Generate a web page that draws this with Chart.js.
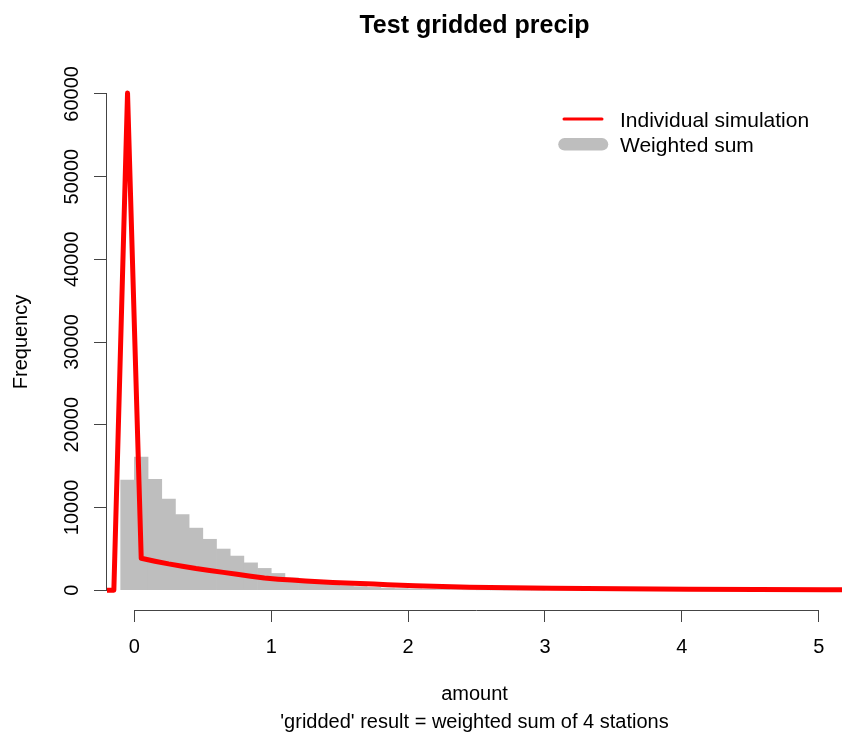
<!DOCTYPE html>
<html>
<head>
<meta charset="utf-8">
<script src="https://cdn.jsdelivr.net/npm/chart.js@4/dist/chart.umd.min.js"></script>
<style>
  html, body { margin: 0; padding: 0; background: #fff; }
  #wrap { width: 842px; height: 736px; }
</style>
</head>
<body>
<div id="wrap"><canvas id="precipChart" width="842" height="736"></canvas></div>
<script>
// Tick labels
const X_TICKS = [0, 1, 2, 3, 4, 5];
const Y_TICKS = [0, 10000, 20000, 30000, 40000, 50000, 60000];

// Histogram of the weighted sum (bin midpoints, bin width 0.1)
const HIST_MIDS = [-0.05, 0.05, 0.15, 0.25, 0.35, 0.45, 0.55, 0.65, 0.75, 0.85, 0.95,
    1.05, 1.15, 1.25, 1.35, 1.45, 1.55, 1.65, 1.75, 1.85, 1.95,
    2.05, 2.15, 2.25, 2.35, 2.45, 2.55, 2.65, 2.75, 2.85, 2.95];
const HIST_COUNTS = [13300, 16100, 13400, 11000, 9130, 7500, 6150, 4970, 4120, 3300, 2630,
    2020, 1480, 1150, 900, 700, 550, 430, 330, 250, 190,
    150, 110, 85, 65, 50, 38, 28, 20, 15, 11];

// Individual simulation frequency polygon
const SIM_X = [-0.25, -0.15, -0.05, 0.05, 0.15, 0.25, 0.35, 0.45, 0.55, 0.65, 0.75, 0.85, 0.95,
    1.05, 1.15, 1.25, 1.35, 1.45, 1.55, 1.65, 1.75, 1.85, 1.95,
    2.05, 2.25, 2.45, 2.75, 3.05, 3.55, 4.05, 4.55, 5.05, 5.25];
const SIM_Y = [0, 0, 60100, 3850, 3500, 3180, 2900, 2620, 2380, 2150, 1920, 1680, 1470,
    1330, 1220, 1110, 1010, 930, 860, 800, 730, 660, 600,
    540, 450, 360, 280, 220, 160, 110, 80, 55, 50];

const FONT = 'Liberation Sans, Arial, Helvetica, sans-serif';
const AXIS_COLOR = '#444';

// R style extras: axis lines that only span the ticks, rotated y labels, title, legend
const rStylePlugin = {
    id: 'rStyle',
    afterDraw(chart) {
        const ctx = chart.ctx;
        const xs = chart.scales.x;
        const ys = chart.scales.y;
        const area = chart.chartArea;
        ctx.save();

        // axis lines
        ctx.strokeStyle = AXIS_COLOR;
        ctx.lineWidth = 1;
        ctx.beginPath();
        ctx.moveTo(xs.getPixelForValue(X_TICKS[0]), area.bottom + 0.5);
        ctx.lineTo(xs.getPixelForValue(X_TICKS[X_TICKS.length - 1]), area.bottom + 0.5);
        ctx.moveTo(area.left - 0.5, ys.getPixelForValue(Y_TICKS[0]));
        ctx.lineTo(area.left - 0.5, ys.getPixelForValue(Y_TICKS[Y_TICKS.length - 1]));
        ctx.stroke();

        // y tick labels, rotated like R
        ctx.fillStyle = '#000';
        ctx.font = '20px ' + FONT;
        ctx.textAlign = 'center';
        ctx.textBaseline = 'alphabetic';
        Y_TICKS.forEach(v => {
            ctx.save();
            ctx.translate(area.left - 29.5, ys.getPixelForValue(v));
            ctx.rotate(-Math.PI / 2);
            ctx.fillText(String(v), 0, 0);
            ctx.restore();
        });

        // main title
        ctx.font = 'bold 25px ' + FONT;
        ctx.fillText('Test gridded precip', (area.left + area.right) / 2, 33);

        // legend
        ctx.lineCap = 'round';
        ctx.strokeStyle = '#FF0000';
        ctx.lineWidth = 3;
        ctx.beginPath();
        ctx.moveTo(564, 119);
        ctx.lineTo(602, 119);
        ctx.stroke();
        ctx.strokeStyle = '#BEBEBE';
        ctx.lineWidth = 12.5;
        ctx.beginPath();
        ctx.moveTo(564.5, 144.3);
        ctx.lineTo(602, 144.3);
        ctx.stroke();
        ctx.font = '21px ' + FONT;
        ctx.textAlign = 'left';
        ctx.fillStyle = '#000';
        ctx.fillText('Individual simulation', 620, 126.5);
        ctx.fillText('Weighted sum', 620, 151.5);

        ctx.restore();
    }
};

const ctx = document.getElementById('precipChart').getContext('2d');

const precipChart = new Chart(ctx, {
    type: 'bar',
    data: {
        datasets: [{
            type: 'line',
            label: 'Individual simulation',
            data: SIM_X.map((x, i) => ({ x: x, y: SIM_Y[i] })),
            borderColor: '#FF0000',
            borderWidth: 5,
            borderJoinStyle: 'round',
            borderCapStyle: 'round',
            pointRadius: 0,
            tension: 0,
            fill: false,
            order: 0
        }, {
            type: 'bar',
            label: 'Weighted sum',
            data: HIST_MIDS.map((x, i) => ({ x: x, y: HIST_COUNTS[i] })),
            backgroundColor: '#BEBEBE',
            borderWidth: 0,
            barPercentage: 1,
            categoryPercentage: 1,
            order: 1
        }]
    },
    options: {
        responsive: false,
        animation: false,
        layout: {
            padding: { top: 74, right: 0, bottom: 0, left: 0 }
        },
        plugins: {
            legend: { display: false },
            tooltip: { enabled: false },
            title: { display: false }
        },
        scales: {
            x: {
                type: 'linear',
                min: -0.2,
                max: 5.17,
                offset: false,
                afterBuildTicks: scale => { scale.ticks = X_TICKS.map(v => ({ value: v })); },
                afterFit: scale => { scale.height = 126; },
                grid: {
                    drawOnChartArea: false,
                    drawTicks: true,
                    tickLength: 12,
                    color: AXIS_COLOR,
                    offset: false
                },
                border: { display: false },
                ticks: {
                    font: { family: FONT, size: 20 },
                    color: '#000',
                    padding: 13,
                    autoSkip: false,
                    maxRotation: 0
                },
                title: {
                    display: true,
                    text: ['amount', "'gridded' result = weighted sum of 4 stations"],
                    font: { family: FONT, size: 20, lineHeight: 1.4 },
                    color: '#000',
                    padding: { top: 0, bottom: 0 }
                }
            },
            y: {
                type: 'linear',
                min: -2400,
                max: 62400,
                afterBuildTicks: scale => { scale.ticks = Y_TICKS.map(v => ({ value: v })); },
                afterFit: scale => { scale.width = 107; },
                grid: {
                    drawOnChartArea: false,
                    drawTicks: true,
                    tickLength: 13,
                    color: AXIS_COLOR
                },
                border: { display: false },
                ticks: { display: false },
                title: {
                    display: true,
                    text: 'Frequency',
                    font: { family: FONT, size: 20, lineHeight: 1.2 },
                    color: '#000',
                    padding: { top: 9, bottom: 0 }
                }
            }
        }
    },
    plugins: [rStylePlugin]
});
</script>
</body>
</html>
